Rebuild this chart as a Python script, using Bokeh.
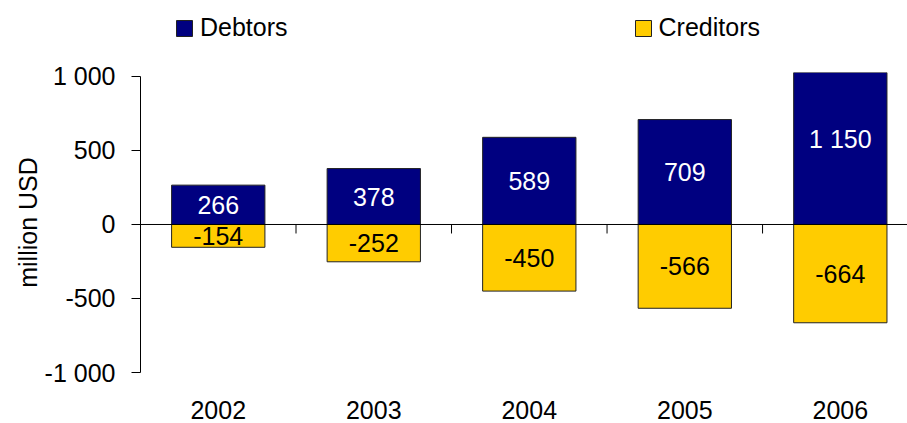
from bokeh.plotting import figure
from bokeh.layouts import column
from bokeh.models import (Range1d, FixedTicker, Span, Legend, LegendItem,
                          LabelSet, ColumnDataSource)
from bokeh.core.properties import value
from bokeh.embed import file_html
from bokeh.resources import INLINE

years = ["2002", "2003", "2004", "2005", "2006"]
debtors = [266, 378, 589, 709, 1150]
creditors = [-154, -252, -450, -566, -664]
y_ticks = [-1000, -500, 0, 500, 1000]
y_tick_labels = ["-1 000", "-500", "0", "500", "1 000"]
series_names = ["Debtors", "Creditors"]

FONT = "Liberation Sans"
DEB_COLOR = "#000080"
CRED_COLOR = "#FFCC00"
EDGE = "#222222"

W = 907
LEG_H = 50
MAIN_H = 423 - LEG_H
LEFT = 140


def fmt(v):
    s = f"{abs(v):,}".replace(",", " ")
    return ("-" if v < 0 else "") + s


x = list(range(1, len(years) + 1))
src = ColumnDataSource(dict(
    x=x,
    deb=debtors,
    cred=creditors,
    deb_mid=[v / 2 for v in debtors],
    cred_mid=[v / 2 for v in creditors],
    deb_lbl=[fmt(v) for v in debtors],
    cred_lbl=[fmt(v) for v in creditors],
))

# ---------- legend strip (its view range holds none of the bars) ----------
lg = figure(width=W, height=LEG_H, x_range=Range1d(-2, -1), y_range=Range1d(0, 1),
            x_axis_type=None, y_axis_type=None,
            output_backend="svg", toolbar_location=None,
            min_border_left=LEFT, min_border_right=0,
            min_border_top=0, min_border_bottom=0)
lg.outline_line_color = None
lg.grid.visible = False
ld = lg.vbar(x='x', top='deb', bottom=0, width=0.6, fill_color=DEB_COLOR,
             line_color=EDGE, source=src)
lc = lg.vbar(x='x', top=0, bottom='cred', width=0.6, fill_color=CRED_COLOR,
             line_color=EDGE, source=src)
legend = Legend(items=[LegendItem(label=series_names[0], renderers=[ld]),
                       LegendItem(label=series_names[1], renderers=[lc])],
                orientation="horizontal", location=(34, 8), spacing=345,
                padding=0, margin=0, border_line_color=None,
                background_fill_alpha=0, glyph_width=20, glyph_height=20,
                label_standoff=6, label_text_font=FONT,
                label_text_color="black",
                label_text_font_size="25px", label_height=20)
lg.add_layout(legend)

# ---------- main chart ----------
p = figure(width=W, height=MAIN_H,
           x_range=Range1d(0.5, 5.432), y_range=Range1d(-1000, 1027),
           output_backend="svg", toolbar_location=None,
           min_border_left=LEFT, min_border_right=0,
           min_border_top=72 - LEG_H, min_border_bottom=51)
p.outline_line_color = None
p.grid.visible = False
p.background_fill_color = "white"

p.vbar(x='x', top='deb', bottom=0, width=0.6, fill_color=DEB_COLOR,
       line_color=EDGE, line_width=1, source=src)
p.vbar(x='x', top=0, bottom='cred', width=0.6, fill_color=CRED_COLOR,
       line_color=EDGE, line_width=1, source=src)

# zero line with category-boundary ticks
p.add_layout(Span(location=0, dimension="width", line_color="black", line_width=1))
bounds_x = [i + 0.5 for i in x[:-1]]
tick_len = 2027 / 300 * 9
p.segment(x0=bounds_x, x1=bounds_x, y0=[0] * len(bounds_x),
          y1=[-tick_len] * len(bounds_x), line_color="black", line_width=1)

# data labels
p.add_layout(LabelSet(x='x', y='deb_mid', text='deb_lbl', source=src,
                      text_align="center", text_baseline="middle",
                      text_color="white", text_font=value(FONT),
                      text_font_size="25px"))
p.add_layout(LabelSet(x='x', y='cred_mid', text='cred_lbl', source=src,
                      text_align="center", text_baseline="middle",
                      text_color="black", text_font=value(FONT),
                      text_font_size="25px"))

# x axis
xa = p.xaxis[0]
xa.ticker = FixedTicker(ticks=x)
xa.major_label_overrides = {i: y for i, y in zip(x, years)}
xa.axis_line_color = None
xa.major_tick_line_color = None
xa.minor_tick_line_color = None
xa.major_label_standoff = 22
xa.major_label_text_font = FONT
xa.major_label_text_font_size = "25px"
xa.major_label_text_color = "black"

# y axis
ya = p.yaxis[0]
ya.ticker = FixedTicker(ticks=y_ticks)
ya.major_label_overrides = {t: l for t, l in zip(y_ticks, y_tick_labels)}
ya.bounds = (-1000, 1000)
ya.axis_line_color = "black"
ya.major_tick_line_color = "black"
ya.major_tick_out = 9
ya.major_tick_in = 0
ya.minor_tick_line_color = None
ya.major_label_standoff = 16
ya.major_label_text_font = FONT
ya.major_label_text_font_size = "25px"
ya.major_label_text_color = "black"
ya.axis_label = "million USD"
ya.axis_label_text_font = FONT
ya.axis_label_text_font_size = "25px"
ya.axis_label_text_font_style = "normal"
ya.axis_label_text_color = "black"
ya.axis_label_standoff = 0

layout = column(lg, p, spacing=0)
open("out.html", "w").write(file_html(layout, INLINE))
